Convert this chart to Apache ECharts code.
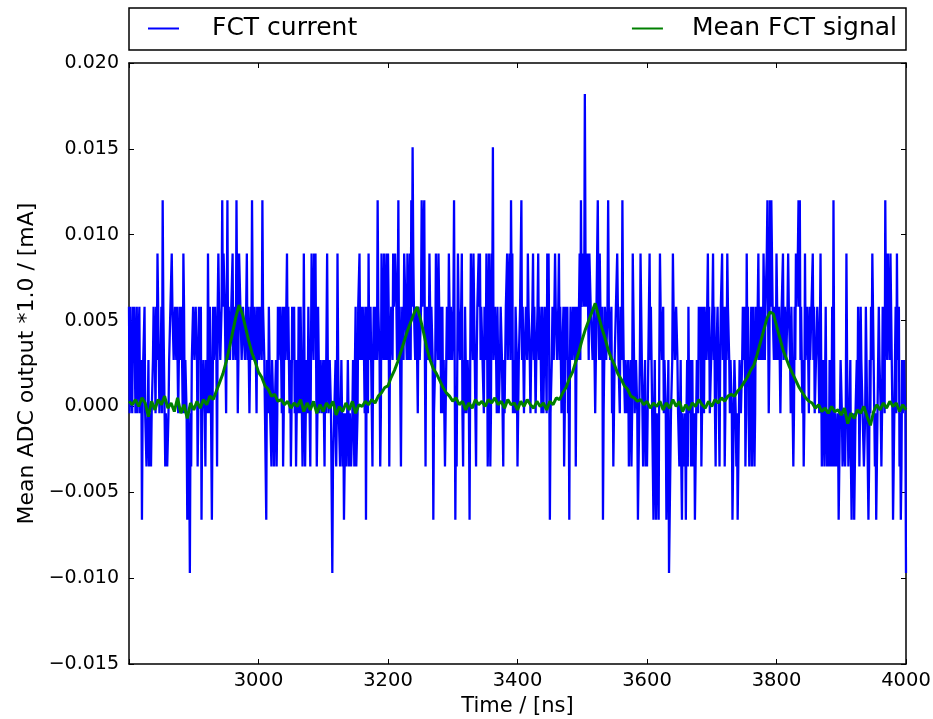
<!DOCTYPE html>
<html>
<head>
<meta charset="utf-8">
<script src="https://cdn.jsdelivr.net/npm/echarts@6/dist/echarts.min.js"></script>
<style>
html,body{margin:0;padding:0;background:#ffffff;}
#chart{width:933px;height:719px;}
</style>
</head>
<body>
<div id="chart"></div>
<script>
// ---------------- data ----------------
const seriesNames = ['FCT current', 'Mean FCT signal'];
const xMin = 2800, xMax = 4000, xInterval = 200;
const yMin = -0.015, yMax = 0.020, yInterval = 0.005;

// quantised ADC levels of the single-shot FCT current (mA); index = level + 3
const adcLevels = [-0.0097, -0.0066, -0.0035, -0.0004, 0.0027, 0.0058, 0.0089, 0.0120, 0.0151, 0.0182];

// FCT current, level codes, sampled every 1 ns from 2800 ns.
// "Even" arrays hold the samples at 2800, 2802, ... ; "odd" arrays the samples at 2801, 2803, ...
const fctStart = 2800;
const fctEven2800 = [2,2,1,2,2,0,2,1,2,0, -2,1,2,0,-1,1,-1,-1,0,2, 1,2,3,1,0,2,4,1,-1,0, -1,1,2,3,2,1,2,2,0,2, 1,2,3,0,1,-2,0,-3,-1,1,
                     2,1,2,-1,2,1,-2,0,1,-1, 1,3,0,1,-2,2,1,2,-1,3, 2,1,4,3,2,0,4,2,1,2, 3,1,2,4,0,3,2,1,2,2, 1,3,2,0,2,4,1,2,1,2];
const fctEven3000 = [2,1,2,4,2,0,-2,1,2,0, -1,1,-1,0,-1,2,1,2,0,-1, 2,1,3,2,0,-1,2,1,0,-1, 1,2,0,1,-1,3,-1,1,0,1, -1,3,2,3,3,-1,2,0,1,0,
                     1,-1,0,3,0,1,0,-3,-1,0, -1,3,0,-1,1,-1,-2,0,-1,1, -1,0,-1,1,-1,2,-1,2,3,2, 1,2,0,-2,2,3,1,2,-1,2, 1,2,4,2,-1,3,2,3,1,3];
const fctEven3200 = [3,-1,1,2,3,2,3,1,4,2, -1,2,1,3,2,3,1,3,4,5, 2,1,2,0,2,1,4,3,4,-1, 1,2,3,1,2,-2,0,3,2,3, 1,0,2,1,-1,1,2,3,1,2,
                     1,4,-2,-1,3,2,1,3,-1,0, 1,0,1,-2,3,2,3,1,-1,2, 3,3,2,1,0,2,3,-1,3,-1, 3,5,1,2,0,1,0,2,1,-1, 0,2,3,2,3,4,3,1,0,2];
const fctEven3400 = [-1,1,2,4,2,0,1,2,3,2, 0,1,3,2,0,1,3,2,1,2, 0,2,1,3,3,-2,0,2,1,3, 2,1,3,2,0,1,-1,2,1,0, -2,2,1,2,1,-1,2,1,3,4,
                     2,3,6,2,3,1,3,2,1,2, 0,2,4,1,2,1,-2,1,2,1, 4,2,1,0,-1,1,2,3,1,0, 2,4,1,0,1,0,-1,0,-1,3, 1,0,1,-2,0,3,1,-1,0,-1];
const fctEven3600 = [-1,1,3,2,0,-2,1,-2,0,-2, 3,2,1,0,1,-2,0,-3,-2,0, 3,2,1,2,0,-1,1,-2,0,-1, -2,1,2,0,-1,1,-1,-2,0,1, 2,1,-1,2,0,2,1,3,2,0,
                     1,3,2,-1,1,2,-1,2,3,1, -1,2,3,2,0,1,-2,0,1,-1, -2,0,1,0,2,1,-1,3,2,-1, 1,-1,2,-1,2,1,3,2,1,2, 3,1,2,4,0,4,4,2,1,2];
const fctEven3800 = [3,1,2,0,2,3,1,2,1,3, 2,0,1,-1,2,3,2,4,4,2, 0,-1,3,1,2,0,1,2,3,2, 0,1,2,0,3,-1,1,-1,2,-1, 0,1,-1,2,4,-1,0,-1,-2,0,
                     1,-1,0,-1,3,0,-1,1,-2,-1, -2,0,1,2,-1,2,1,0,-1,2, 0,-2,1,2,3,1,-1,-2,0,2, 1,-1,2,1,4,2,3,2,3,1, -2,0,2,3,1,-1,-2,1,0,1, -3];

const fctOdd2800 = [0,1,0,1,2,1,0,1,0,1, 0,1,0,-1,0,-1,0,0,1,2, 0,1,2,0,1,0,2,0,0,-1, 0,1,2,2,1,2,1,2,1,2, 2,0,2,1,0,0,-1,0,1,2,
                    1,2,1,0,1,2,0,1,0,1, 0,1,2,1,0,1,2,1,2,2, 1,2,2,3,1,2,1,2,1,2, 1,2,1,2,1,3,2,1,2,1, 2,1,2,1,1,2,1,2,0,1];
const fctOdd3000 = [1,2,1,2,1,0,1,0,1,0, 1,0,0,1,0,1,2,1,2,0, 1,2,1,2,1,0,1,2,1,0, 0,1,2,1,0,1,0,1,2,0, 1,2,1,2,1,0,1,0,1,0,
                    0,1,0,1,0,1,0,-1,0,1, 0,1,0,-1,0,0,-1,0,-1,0, 0,-1,0,0,1,-1,0,2,1,2, 2,1,2,1,0,1,2,0,1,2, 2,1,2,1,0,2,1,2,2,1];
const fctOdd3200 = [2,1,2,1,2,3,2,2,1,2, 1,2,3,2,1,2,2,1,2,3, 2,2,1,2,1,2,2,3,1,2, 2,1,2,2,1,0,1,2,1,2, 2,1,0,1,0,2,1,2,2,1,
                    2,1,0,1,2,1,2,0,1,2, 0,1,0,1,2,1,2,0,1,2, 2,1,2,1,2,1,2,0,2,0, 2,1,2,1,2,0,1,2,0,1, 1,2,1,2,1,2,0,1,2,1];
const fctOdd3400 = [0,1,2,1,2,1,2,1,2,1, 1,2,1,2,1,2,1,2,0,1, 1,2,0,2,1,0,1,2,1,2, 1,2,1,2,1,2,0,1,2,1, 1,2,1,2,2,1,2,2,1,2,
                    2,2,3,2,2,3,2,2,1,2, 1,2,2,3,1,2,0,2,1,2, 2,1,2,1,0,1,2,2,1,2, 1,2,1,1,0,1,0,1,0,2, 0,1,0,-1,1,2,0,0,1,0];
const fctOdd3600 = [0,2,1,1,-1,0,-1,0,-1,1, 2,1,2,1,0,-1,1,-2,0,1, 2,1,2,1,0,0,-1,0,-1,0, 0,-1,0,1,0,-1,0,-1,1,0, 1,2,0,1,2,1,2,1,0,1,
                    2,1,0,1,2,0,1,2,1,2, 0,1,2,1,1,0,-1,1,0,0, -1,1,0,1,1,2,0,1,0,0, 2,0,1,0,1,2,1,2,2,1, 2,2,3,2,1,2,3,2,2,1];
const fctOdd3800 = [2,1,2,1,2,1,2,1,2,2, 1,2,1,0,1,2,3,2,1,2, 1,0,1,2,1,2,1,2,1,0, 1,2,1,0,1,0,0,-1,0,0, -1,0,0,-1,1,0,-1,0,-1,1,
                    0,-1,0,0,1,-1,0,-1,0,0, -1,0,0,1,0,1,0,-1,0,1, 0,-1,0,1,2,0,0,-1,1,1, 0,0,1,0,2,1,2,1,2,0, -1,1,0,1,2,0,-1,0,1,0];

// Mean FCT signal: sampled every 5 ns from 2800 ns (mA)
const meanStart = 2800, meanStep = 5;
const mean2800 = [0.0003,0.0001,0.0004,0.0000,0.0005,0.0002,-0.0006,0.0003,-0.0002,0.0004,
                  0.0001,0.0006,-0.0001,0.0002,-0.0003,0.0005,-0.0004,0.0001,-0.0007,0.0002,
                  -0.0002,0.0003,-0.0001,0.0004,0.0001,0.0006,0.0004,0.0009,0.0014,0.0019,
                  0.0026,0.0034,0.0043,0.0052,0.0059,0.0054,0.0046,0.0038,0.0031,0.0026];
const mean3000 = [0.0020,0.0017,0.0012,0.0010,0.0006,0.0007,0.0003,0.0004,0.0001,0.0003,
                  -0.0001,0.0002,0.0000,0.0004,-0.0003,0.0002,-0.0002,0.0003,-0.0004,0.0001,
                  -0.0003,0.0002,-0.0001,0.0003,-0.0005,0.0000,-0.0003,0.0002,-0.0002,0.0003,
                  -0.0004,0.0001,0.0000,0.0003,0.0001,0.0004,0.0002,0.0006,0.0008,0.0011];
const mean3200 = [0.0012,0.0017,0.0021,0.0026,0.0032,0.0038,0.0044,0.0049,0.0054,0.0058,
                  0.0051,0.0043,0.0034,0.0027,0.0022,0.0019,0.0015,0.0011,0.0008,0.0006,
                  0.0003,0.0005,0.0001,0.0003,-0.0002,0.0002,-0.0001,0.0004,0.0001,0.0003,
                  0.0000,0.0004,0.0002,0.0005,0.0001,0.0003,-0.0001,0.0004,0.0001,0.0002];
const mean3400 = [-0.0002,0.0003,0.0000,0.0004,0.0001,-0.0001,0.0003,0.0000,0.0002,-0.0002,
                  0.0003,0.0001,0.0005,0.0004,0.0008,0.0011,0.0016,0.0020,0.0026,0.0032,
                  0.0039,0.0045,0.0050,0.0055,0.0060,0.0053,0.0046,0.0040,0.0033,0.0028,
                  0.0024,0.0019,0.0016,0.0012,0.0010,0.0006,0.0005,0.0003,0.0004,0.0001];
const mean3600 = [0.0003,-0.0001,0.0002,0.0000,0.0003,-0.0002,0.0002,-0.0001,0.0004,0.0000,
                  0.0003,-0.0003,0.0001,-0.0002,0.0002,0.0000,0.0004,0.0001,-0.0001,0.0003,
                  0.0000,0.0004,0.0002,0.0005,0.0003,0.0006,0.0007,0.0006,0.0009,0.0011,
                  0.0014,0.0017,0.0021,0.0024,0.0030,0.0037,0.0044,0.0051,0.0055,0.0054];
const mean3800 = [0.0047,0.0040,0.0033,0.0028,0.0023,0.0019,0.0015,0.0011,0.0008,0.0005,
                  0.0003,0.0002,-0.0001,0.0001,-0.0003,-0.0001,-0.0004,0.0000,-0.0003,-0.0002,
                  -0.0005,-0.0001,-0.0010,-0.0004,-0.0007,-0.0002,-0.0004,0.0000,-0.0006,-0.0011,
                  -0.0003,0.0001,-0.0002,0.0002,-0.0001,0.0003,0.0000,0.0002,-0.0003,0.0001,
                  -0.0002];

// ---------------- build series ----------------
const fctEven = [].concat(fctEven2800, fctEven3000, fctEven3200, fctEven3400, fctEven3600, fctEven3800);
const fctOdd = [].concat(fctOdd2800, fctOdd3000, fctOdd3200, fctOdd3400, fctOdd3600, fctOdd3800);
const fctData = [];
for (let i = 0; i < fctEven.length; i++) {
  fctData.push([fctStart + 2 * i, adcLevels[fctEven[i] + 3]]);
  if (i < fctOdd.length) fctData.push([fctStart + 2 * i + 1, adcLevels[fctOdd[i] + 3]]);
}
const meanValues = [].concat(mean2800, mean3000, mean3200, mean3400, mean3600, mean3800);
const meanData = meanValues.map((v, i) => [meanStart + i * meanStep, v]);

const FONT = 'DejaVu Sans';
const fmtY = v => {
  if (Math.abs(v) < 1e-12) return '0.000';
  return (v < 0 ? '\u2212' : '') + Math.abs(v).toFixed(3);
};
const fmtX = v => (v === xMin ? '' : String(v));

const axisLine = { show: true, onZero: false, lineStyle: { color: '#000', width: 1.5 } };
const axisTick = { show: true, inside: true, length: 5, lineStyle: { color: '#000', width: 1 } };

const chart = echarts.init(document.getElementById('chart'), null, { renderer: 'canvas' });
chart.setOption({
  animation: false,
  backgroundColor: '#ffffff',
  grid: { left: 129, right: 27, top: 63, bottom: 55, containLabel: false, outerBoundsMode: 'none' },
  graphic: [{
    type: 'rect', z: 0,
    shape: { x: 129, y: 8, width: 777, height: 42 },
    style: { fill: '#ffffff', stroke: '#000000', lineWidth: 1.5 }
  }],
  legend: [
    { data: [seriesNames[0]], left: 148, top: 16, icon: 'rect', itemWidth: 31, itemHeight: 2, padding: 0, z: 5,
      textStyle: { fontFamily: FONT, fontSize: 25, color: '#000', padding: [0, 0, 0, 28] } },
    { data: [seriesNames[1]], right: 36, top: 16, icon: 'rect', itemWidth: 31, itemHeight: 2, padding: 0, z: 5,
      textStyle: { fontFamily: FONT, fontSize: 25, color: '#000', padding: [0, 0, 0, 24] } }
  ],
  xAxis: [
    { type: 'value', min: xMin, max: xMax, interval: xInterval, position: 'bottom',
      name: 'Time / [ns]', nameLocation: 'middle', nameGap: 30,
      nameTextStyle: { fontFamily: FONT, fontSize: 21, color: '#000' },
      axisLine, axisTick, splitLine: { show: false },
      axisLabel: { formatter: fmtX, fontFamily: FONT, fontSize: 19.5, color: '#000', margin: 7 } },
    { type: 'value', min: xMin, max: xMax, interval: xInterval, position: 'top',
      axisLine, axisTick, splitLine: { show: false }, axisLabel: { show: false } }
  ],
  yAxis: [
    { type: 'value', min: yMin, max: yMax, interval: yInterval, position: 'left',
      name: 'Mean ADC output *1.0 / [mA]', nameLocation: 'middle', nameGap: 91,
      nameTextStyle: { fontFamily: FONT, fontSize: 22, color: '#000' },
      axisLine, axisTick, splitLine: { show: false },
      axisLabel: { formatter: fmtY, fontFamily: FONT, fontSize: 19, color: '#000', margin: 10 } },
    { type: 'value', min: yMin, max: yMax, interval: yInterval, position: 'right',
      axisLine, axisTick, splitLine: { show: false }, axisLabel: { show: false } }
  ],
  series: [
    { name: seriesNames[0], type: 'line', data: fctData, xAxisIndex: 0, yAxisIndex: 0,
      showSymbol: false, symbol: 'none', z: 2, progressive: 0,
      lineStyle: { color: '#0000ff', width: 2.3 }, itemStyle: { color: '#0000ff' } },
    { name: seriesNames[1], type: 'line', data: meanData, xAxisIndex: 0, yAxisIndex: 0,
      showSymbol: false, symbol: 'none', z: 3,
      lineStyle: { color: '#008000', width: 3 }, itemStyle: { color: '#008000' } }
  ]
});
</script>
</body>
</html>
